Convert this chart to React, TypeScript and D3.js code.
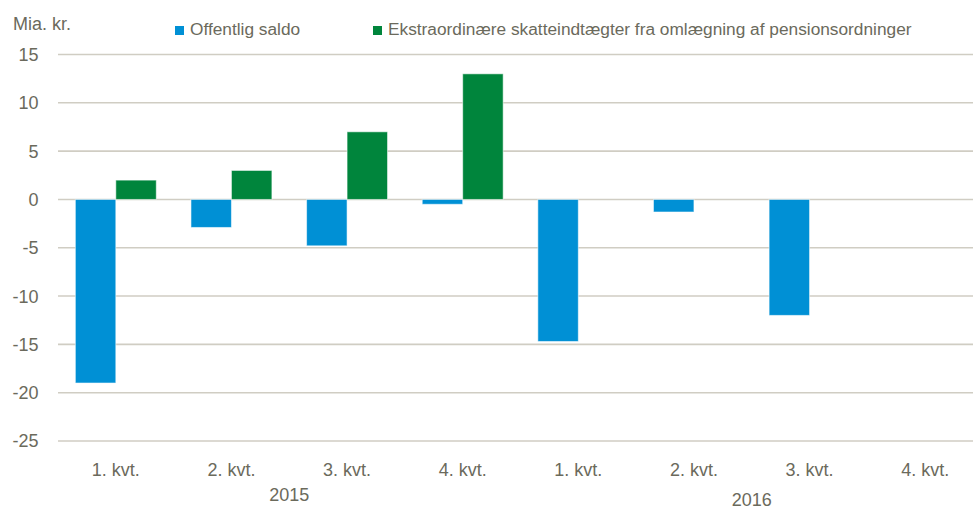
import React from "react";
import * as d3 from "d3";

const categories = ["1. kvt.", "2. kvt.", "3. kvt.", "4. kvt.", "1. kvt.", "2. kvt.", "3. kvt.", "4. kvt."];
const categoryKeys = ["2015Q1", "2015Q2", "2015Q3", "2015Q4", "2016Q1", "2016Q2", "2016Q3", "2016Q4"];
const years = ["2015", "2016"];
const seriesNames = ["Offentlig saldo", "Ekstraordinære skatteindtægter fra omlægning af pensionsordninger"];
const offentligSaldo: (number | null)[] = [-19, -2.9, -4.8, -0.5, -14.7, -1.3, -12, null];
const ekstraordinaere: (number | null)[] = [2, 3, 7, 13, null, null, null, null];
const yTicks = [15, 10, 5, 0, -5, -10, -15, -20, -25];
const colors = ["#0090d5", "#00853c"];

const W = 973;
const H = 511;
const textColor = "#6b6a5c";
const gridColor = "#d0cdc3";
const font = "'Liberation Sans', Arial, sans-serif";

export default function App() {
  const y = d3.scaleLinear().domain([-25, 15]).range([441, 54.5]);
  const x = d3.scaleBand<string>().domain(categoryKeys).range([58, 983]).padding(0);
  const step = x.bandwidth();
  const inner = d3.scaleBand<string>().domain(["a", "b"]).range([0.15 * step, 0.85 * step]).padding(0);
  const seriesData = [offentligSaldo, ekstraordinaere];

  return (
    <svg
      width={W}
      height={H}
      style={{ position: "absolute", left: 0, top: 0, background: "#fff", overflow: "hidden" }}
      fontFamily={font}
    >
      <rect x={0} y={0} width={W} height={H} fill="#fff" />
      {yTicks.map((t) => (
        <g key={t}>
          <line x1={58} x2={W} y1={y(t)} y2={y(t)} stroke={gridColor} strokeWidth={1.6} />
          <text x={38.5} y={y(t)} dy="0.36em" textAnchor="end" fontSize={18} fill={textColor}>
            {t}
          </text>
        </g>
      ))}
      {seriesData.map((vals, si) =>
        vals.map((v, i) => {
          if (v === null) return null;
          const bx = (x(categoryKeys[i]) as number) + (inner(si === 0 ? "a" : "b") as number);
          const y0 = y(0);
          const y1 = y(v);
          return (
            <rect
              key={`${si}-${i}`}
              x={bx}
              y={Math.min(y0, y1)}
              width={inner.bandwidth()}
              height={Math.abs(y1 - y0)}
              fill={colors[si]}
              stroke="rgba(255,255,255,0.55)"
              strokeWidth={1}
            />
          );
        })
      )}
      {categories.map((c, i) => (
        <text
          key={categoryKeys[i]}
          x={(x(categoryKeys[i]) as number) + step / 2}
          y={476}
          textAnchor="middle"
          fontSize={18}
          fill={textColor}
        >
          {c}
        </text>
      ))}
      <text x={x(categoryKeys[2]) as number} y={501} textAnchor="middle" fontSize={18} fill={textColor}>
        {years[0]}
      </text>
      <text x={x(categoryKeys[6]) as number} y={506} textAnchor="middle" fontSize={18} fill={textColor}>
        {years[1]}
      </text>
      <text x={13} y={30} fontSize={18} fill={textColor}>
        Mia. kr.
      </text>
      <rect x={175} y={26} width={9} height={9} fill={colors[0]} />
      <text x={190} y={35} fontSize={17.3} fill={textColor}>
        {seriesNames[0]}
      </text>
      <rect x={373} y={26} width={9} height={9} fill={colors[1]} />
      <text x={388} y={35} fontSize={17.3} fill={textColor}>
        {seriesNames[1]}
      </text>
    </svg>
  );
}
